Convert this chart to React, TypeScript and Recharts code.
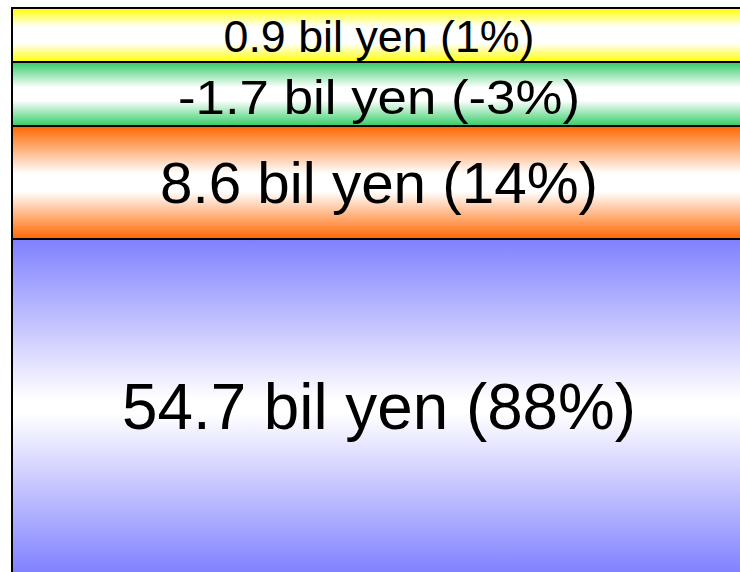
import React from "react";
import { BarChart, Bar, XAxis, YAxis } from "recharts";

// segments listed bottom -> top
const amounts = [54.7, 8.6, -1.7, 0.9];
const shares = [88, 14, -3, 1];
// visible band heights (relative units)
const bandSize = [335, 113, 64, 54];

const COLORS = ["#8080ff", "#ff6600", "#33cc66", "#ffff00"];
const WHITE_SPAN = [0.04, 0.16, 0.2, 0.3];
const FONT_SIZE = [64, 58, 49, 45];
const TEXT_LEN = [514, 438, 402, 311];
const BASE_SHIFT = [22, 20.5, 20, 16.5];

const data = [
  bandSize.reduce((row: Record<string, number | string>, v, i) => {
    row[`s${i}`] = v;
    return row;
  }, { name: "total" }),
];

const labelFor = (i: number) => `${amounts[i]} bil yen (${shares[i]}%)`;

function SegLabel(props: any, i: number) {
  const x = Number(props.x ?? props.viewBox?.x);
  const y = Number(props.y ?? props.viewBox?.y);
  const w = Number(props.width ?? props.viewBox?.width);
  const h = Number(props.height ?? props.viewBox?.height);
  return (
    <text
      x={x + w / 2}
      y={y + h / 2 + BASE_SHIFT[i]}
      textAnchor="middle"
      fontSize={FONT_SIZE[i]}
      fill="#000"
      textLength={TEXT_LEN[i]}
      lengthAdjust="spacingAndGlyphs"
      style={{ fontFamily: "'Liberation Sans', Arial, sans-serif" }}
    >
      {labelFor(i)}
    </text>
  );
}

export default function App() {
  return (
    <div style={{ position: "fixed", top: 0, left: 0, width: 740, height: 572, overflow: "hidden", background: "#fff" }}>
      <BarChart
        width={746}
        height={574}
        data={data}
        margin={{ top: 8, right: 0, left: 12, bottom: 0 }}
        barCategoryGap={0}
        barGap={0}
      >
        <defs>
          {COLORS.map((c, i) => (
            <linearGradient key={i} id={`g${i}`} x1="0" y1="0" x2="0" y2="1">
              <stop offset="0%" stopColor={c} />
              <stop offset={`${(0.5 - WHITE_SPAN[i] / 2) * 100}%`} stopColor="#ffffff" />
              <stop offset={`${(0.5 + WHITE_SPAN[i] / 2) * 100}%`} stopColor="#ffffff" />
              <stop offset="100%" stopColor={c} />
            </linearGradient>
          ))}
        </defs>
        <XAxis dataKey="name" hide />
        <YAxis hide domain={[0, "dataMax"]} />
        {bandSize.map((_, i) => (
          <Bar
            key={i}
            dataKey={`s${i}`}
            stackId="a"
            fill={`url(#g${i})`}
            stroke="#000"
            strokeWidth={2}
            isAnimationActive={false}
            label={(p: any) => SegLabel(p, i)}
          />
        ))}
      </BarChart>
    </div>
  );
}
